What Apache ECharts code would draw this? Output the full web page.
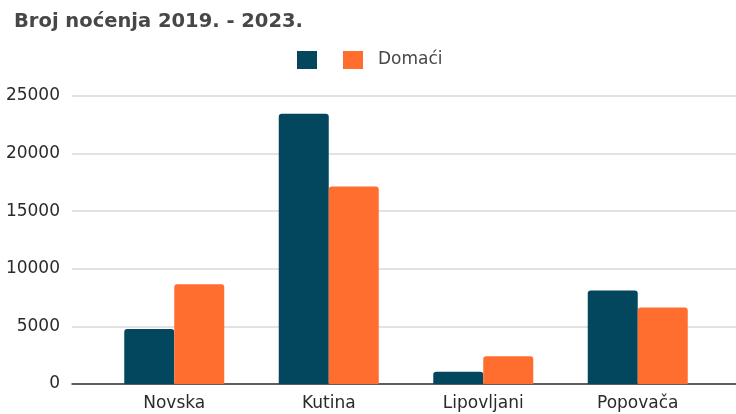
<!DOCTYPE html>
<html>
<head>
<meta charset="utf-8">
<script src="https://cdn.jsdelivr.net/npm/echarts@6/dist/echarts.min.js"></script>
<style>
  html, body { margin: 0; padding: 0; background: #fff; }
  #chart { width: 736px; height: 414px; }
</style>
</head>
<body>
<div id="chart"></div>
<script>
// podaci
const categories = ['Novska', 'Kutina', 'Lipovljani', 'Popovača']
const strani = [4770, 23450, 1070, 8120]
const domaci = [8650, 17150, 2400, 6650]
const yTicks = { min: 0, max: 25000, interval: 5000 }

const FONT = 'DejaVu Sans'
const DARK = '#03475f'
const ORANGE = '#ff6d2f'

const chart = echarts.init(document.getElementById('chart'))

chart.setOption({
  animation: false,
  backgroundColor: '#fff',
  title: {
    text: 'Broj noćenja 2019. - 2023.',
    left: 14,
    top: 12,
    padding: 0,
    textStyle: { fontFamily: FONT, fontSize: 19.5, fontWeight: 'bold', color: '#474747' },
  },
  legend: {
    left: 297,
    top: 51,
    padding: 0,
    itemWidth: 20,
    itemHeight: 18,
    itemGap: 26,
    icon: 'rect',
    data: ['Strani', 'Domaći'],
    formatter: (name) => (name === 'Strani' ? '' : name),
    textStyle: { fontFamily: FONT, fontSize: 17, color: '#474747', padding: [0, 0, 0, 10] },
  },
  // grid 0: osi i mreža preko cijele širine, grid 1: stupci
  grid: [
    { left: 72, right: 0, top: 96, bottom: 30 },
    { left: 97, right: 21, top: 96, bottom: 30 },
  ],
  xAxis: [
    {
      type: 'category',
      gridIndex: 0,
      data: [''],
      axisLine: { lineStyle: { color: '#333', width: 1.5 } },
      axisTick: { show: false },
      axisLabel: { show: false },
    },
    {
      type: 'category',
      gridIndex: 1,
      data: categories,
      axisLine: { show: false },
      axisTick: { show: false },
      axisLabel: { fontFamily: FONT, fontSize: 17, color: '#2b2b2b', margin: 11 },
    },
  ],
  yAxis: [
    {
      type: 'value',
      gridIndex: 0,
      ...yTicks,
      axisLine: { show: false },
      axisTick: { show: false },
      axisLabel: {
        fontFamily: FONT, fontSize: 17, color: '#2b2b2b', margin: 12,
        formatter: (v) => String(v),
      },
      splitLine: { lineStyle: { color: '#d9d9d9', width: 1.5 } },
    },
    {
      type: 'value',
      gridIndex: 1,
      ...yTicks,
      show: false,
      splitLine: { show: false },
    },
  ],
  series: [
    {
      name: 'Strani',
      type: 'bar',
      xAxisIndex: 1,
      yAxisIndex: 1,
      data: strani,
      barWidth: 50,
      barGap: '0%',
      itemStyle: { color: DARK, borderRadius: [3, 3, 0, 0] },
    },
    {
      name: 'Domaći',
      type: 'bar',
      xAxisIndex: 1,
      yAxisIndex: 1,
      data: domaci,
      barWidth: 50,
      barGap: '0%',
      itemStyle: { color: ORANGE, borderRadius: [3, 3, 0, 0] },
    },
  ],
})
</script>
</body>
</html>
